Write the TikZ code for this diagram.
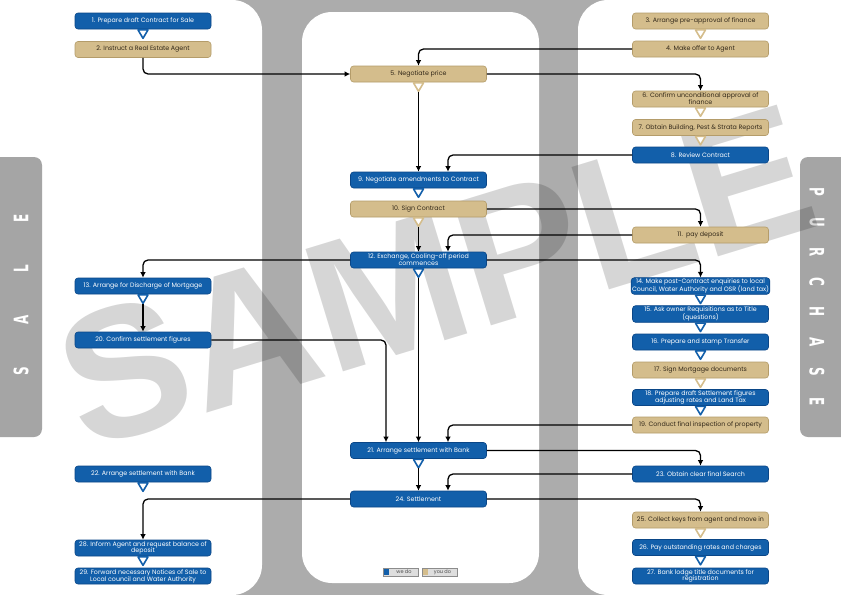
\documentclass[tikz,border=0pt]{standalone}
\usepackage{graphicx}
\usepackage{fontspec}
\setmainfont{Poppins}
\newfontfamily\wmfont{Liberation Sans}
\newfontfamily\tabfont{DejaVu Sans}
\usetikzlibrary{calc,arrows.meta}

\definecolor{bg}{RGB}{172,172,172}
\definecolor{tabc}{RGB}{165,165,165}
\definecolor{bl}{RGB}{18,95,170}
\definecolor{blb}{RGB}{10,70,135}
\definecolor{tn}{RGB}{212,189,140}
\definecolor{tnb}{RGB}{180,156,106}
\definecolor{tnt}{RGB}{50,40,25}

\tikzset{
 box/.style={rounded corners=3pt, minimum width=136pt, minimum height=16pt, inner sep=0.8pt, align=center, font=\fontsize{6.3}{6.8}\selectfont, line width=0.6pt},
 we/.style={box, fill=bl, draw=blb, text=white},
 you/.style={box, fill=tn, draw=tnb, text=tnt},
 arr/.style={draw=black, line width=1.3pt, rounded corners=5pt, -{Latex[length=5.5pt,width=5.5pt]}},
 tabletter/.style={text=white, font=\tabfont\bfseries\fontsize{20}{20}\selectfont, inner sep=0pt},
 legtext/.style={font=\fontsize{5}{5}\selectfont, text=black!70, inner sep=0pt},
}
\newcommand\tl[1]{\scalebox{0.6}[1]{#1}}

\newcommand\ptr[2]{%
 \draw[#2, line width=1.6pt, fill=white, line join=round] ($(#1.south)+(-5,0.6)$) -- ($(#1.south)+(5,0.6)$) -- ($(#1.south)+(0,9)$) -- cycle;
 \coordinate (#1-tip) at ($(#1.south)+(0,9.5)$);}

\begin{document}
\begin{tikzpicture}[x=1pt,y=-1pt]
\useasboundingbox (0,0) rectangle (841,595);
% background
\fill[bg] (0,0) rectangle (841,595);
\fill[white, rounded corners=30pt] (-40,0) rectangle (262,595);
\fill[white, rounded corners=30pt] (302,12) rectangle (539,583);
\fill[white, rounded corners=30pt] (578,0) rectangle (881,595);
% tabs
\fill[tabc, rounded corners=8pt] (-10,157) rectangle (42,437);
\fill[tabc, rounded corners=8pt] (800,157) rectangle (851,437);
\node[tabletter, rotate=90] (sE) at (21,218) {\tl{E}};
\node[tabletter, rotate=90] (sL) at (21,269) {\tl{L}};
\node[tabletter, rotate=90] (sA) at (21,320) {\tl{A}};
\node[tabletter, rotate=90] (sS) at (21,371) {\tl{S}};
\node[tabletter, rotate=-90] (pP) at (817,192) {\tl{P}};
\node[tabletter, rotate=-90] (pU) at (817,222) {\tl{U}};
\node[tabletter, rotate=-90] (pR) at (817,252) {\tl{R}};
\node[tabletter, rotate=-90] (pC) at (817,282) {\tl{C}};
\node[tabletter, rotate=-90] (pH) at (817,312) {\tl{H}};
\node[tabletter, rotate=-90] (pA) at (817,342) {\tl{A}};
\node[tabletter, rotate=-90] (pS) at (817,372) {\tl{S}};
\node[tabletter, rotate=-90] (pE) at (817,402) {\tl{E}};
% watermark
\node[rotate=17, text=black, text opacity=0.16, font=\wmfont\bfseries\fontsize{186}{186}\selectfont, inner sep=0pt] (wm) at (436,276) {SAMPLE};

% nodes
\node[we] (n1) at (143,21) {1. Prepare draft Contract for Sale};
\node[you] (n2) at (143,49.5) {2. Instruct a Real Estate Agent};
\node[you] (n3) at (700.5,21) {3. Arrange pre-approval of finance};
\node[you] (n4) at (700.5,49) {4. Make offer to Agent};
\node[you] (n5) at (418.5,74) {5. Negotiate price};
\node[you] (n6) at (700.5,99) {6. Confirm unconditional approval of\\finance};
\node[you] (n7) at (700.5,127.5) {7. Obtain Building, Pest \& Strata Reports};
\node[we] (n8) at (700.5,155) {8. Review Contract};
\node[we] (n9) at (418.5,180) {9. Negotiate amendments to Contract};
\node[you] (n10) at (418.5,209) {10. Sign Contract};
\node[you] (n11) at (700.5,235) {11.\ \ pay deposit};
\node[we] (n12) at (418.5,260) {12. Exchange, Cooling-off period\\commences};
\node[we] (n13) at (143,286) {13. Arrange for Discharge of Mortgage};
\node[we] (n14) at (700.5,286) {14. Make post-Contract enquiries to local\\Council, Water Authority and OSR (land tax)};
\node[we] (n15) at (700.5,314) {15. Ask owner Requisitions as to Title\\(questions)};
\node[we] (n16) at (700.5,342) {16. Prepare and stamp Transfer};
\node[you] (n17) at (700.5,370) {17. Sign Mortgage documents};
\node[we] (n18) at (700.5,397.5) {18. Prepare draft Settlement figures\\adjusting rates and Land Tax};
\node[you] (n19) at (700.5,425) {19. Conduct final inspection of property};
\node[we] (n20) at (143,340) {20. Confirm settlement figures};
\node[we] (n21) at (418.5,450.5) {21. Arrange settlement with Bank};
\node[we] (n22) at (143,474) {22. Arrange settlement with Bank};
\node[we] (n23) at (700.5,474) {23. Obtain clear final Search};
\node[we] (n24) at (418.5,499) {24. Settlement};
\node[you] (n25) at (700.5,520) {25. Collect keys from agent and move in};
\node[we] (n26) at (700.5,547.5) {26. Pay outstanding rates and charges};
\node[we] (n27) at (700.5,576) {27. Bank lodge title documents for\\registration};
\node[we] (n28) at (143,548) {28. Inform Agent and request balance of\\deposit};
\node[we] (n29) at (143,576) {29. Forward necessary Notices of Sale to\\Local council and Water Authority};

% pointers
\ptr{n1}{bl}\ptr{n3}{tn}\ptr{n5}{tn}\ptr{n6}{tn}\ptr{n7}{tn}
\ptr{n9}{bl}\ptr{n10}{tn}\ptr{n12}{bl}\ptr{n13}{bl}\ptr{n14}{bl}
\ptr{n15}{bl}\ptr{n16}{bl}\ptr{n17}{tn}\ptr{n18}{bl}\ptr{n21}{bl}
\ptr{n22}{bl}\ptr{n25}{tn}\ptr{n26}{bl}\ptr{n28}{bl}

% side entry points
\coordinate (n9-r) at ($(n9.north)+(29.5,0)$);
\coordinate (n12-r) at ($(n12.north)+(29.5,0)$);
\coordinate (n21-r) at ($(n21.north)+(29.5,0)$);
\coordinate (n21-l) at ($(n21.north)+(-32.5,0)$);
\coordinate (n24-r) at ($(n24.north)+(29.5,0)$);

% connectors
\draw[arr] (n2.south) |- (n5.west);
\draw[arr] (n4.west) -| (n5.north);
\draw[arr] (n5.east) -| (n6.north);
\draw[arr] (n5-tip) -- (n9.north);
\draw[arr] (n8.west) -| (n9-r);
\draw[arr] (n10.east) -| (n11.north);
\draw[arr] (n10-tip) -- (n12.north);
\draw[arr] (n11.west) -| (n12-r);
\draw[arr] (n12.west) -| (n13.north);
\draw[arr] (n12.east) -| (n14.north);
\draw[arr] (n12-tip) -- (n21.north);
\draw[arr] (n13-tip) -- (n20.north);
\draw[arr] (n20.east) -| (n21-l);
\draw[arr] (n19.west) -| (n21-r);
\draw[arr] (n21.east) -| (n23.north);
\draw[arr] (n23.west) -| (n24-r);
\draw[arr] (n21-tip) -- (n24.north);
\draw[arr] (n24.east) -| (n25.north);
\draw[arr] (n24.west) -| (n28.north);

% legend
\draw[black!45, fill=black!13, line width=0.4pt] (383,568) rectangle (418,576);
\fill[bl] (383.6,568.6) rectangle (389.4,575.4);
\node[legtext] (lwe) at (404,572) {we do};
\draw[black!45, fill=black!13, line width=0.4pt] (422,568) rectangle (457,576);
\fill[tn] (422.6,568.6) rectangle (428.4,575.4);
\node[legtext] (lyou) at (442.5,572) {you do};
\end{tikzpicture}
\end{document}
